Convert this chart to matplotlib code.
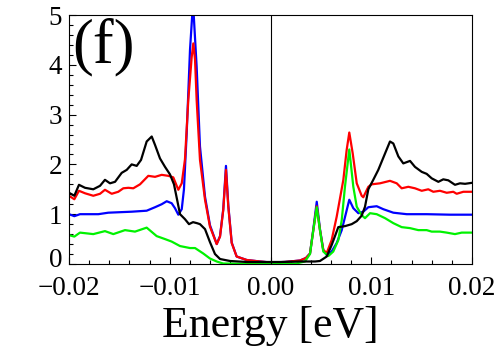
import numpy as np
import matplotlib
matplotlib.use("Agg")
import matplotlib.pyplot as plt
import matplotlib.transforms as mtransforms
from matplotlib.ticker import MultipleLocator, FuncFormatter

plt.rcParams['font.family'] = ['Liberation Serif', 'DejaVu Serif']

# energies in meV
e_black = [-20.00, -19.47, -19.01, -18.41, -17.59, -16.92, -16.43, -15.93, -15.43, -14.77,
           -14.27, -13.78, -13.28, -12.85, -12.29, -11.79, -11.46, -10.97, -10.47, -9.98,
           -9.58, -9.28, -8.98, -8.49, -8.09, -7.69, -7.30, -7.00, -6.50, -6.01,
           -5.51, -5.01, -4.02, -2.33, -1.04, 0.94, 2.93, 4.42, 4.91, 5.58,
           6.07, 6.73, 7.39, 8.06, 8.56, 9.05, 9.38, 9.71, 10.20, 10.70,
           11.37, 11.86, 12.19, 12.69, 13.18, 13.85, 14.34, 15.01, 15.50, 16.00,
           16.66, 17.15, 17.65, 18.31, 18.81, 19.31, 20.00]
dos_black = [1.43, 1.37, 1.59, 1.53, 1.50, 1.57, 1.69, 1.62, 1.65, 1.83,
             1.89, 2.00, 1.97, 2.09, 2.46, 2.56, 2.39, 2.12, 1.95, 1.80,
             1.60, 1.30, 1.00, 0.90, 0.80, 0.84, 0.82, 0.80, 0.70, 0.44,
             0.20, 0.10, 0.06, 0.04, 0.04, 0.04, 0.05, 0.05, 0.06, 0.15,
             0.38, 0.74, 0.76, 0.80, 0.86, 0.97, 1.15, 1.50, 1.69, 1.89,
             2.22, 2.46, 2.42, 2.16, 2.02, 2.07, 1.95, 1.85, 1.81, 1.72,
             1.65, 1.70, 1.68, 1.59, 1.62, 1.61, 1.63]

e_red = [-20.00, -19.47, -19.01, -18.41, -17.59, -16.92, -16.43, -15.76, -15.11, -14.61,
         -14.11, -13.62, -12.95, -12.13, -11.46, -10.80, -10.14, -9.65, -9.15, -8.81,
         -8.49, -8.16, -7.82, -7.66, -7.49, -7.33, -7.00, -6.50, -6.01, -5.34,
         -5.01, -4.69, -4.42, -4.19, -3.85, -3.36, -2.36, -1.04, 0.00, 1.44,
         2.93, 3.52, 3.92, 4.25, 4.59, 4.91, 5.24, 5.58, 6.07, 6.57,
         7.23, 7.56, 7.82, 8.16, 8.56, 9.05, 9.21, 9.71, 10.05, 10.87,
         11.86, 12.53, 13.02, 13.68, 14.34, 15.01, 15.66, 16.16, 16.82, 17.49,
         18.14, 18.48, 19.14, 20.00]
dos_red = [1.37, 1.30, 1.47, 1.42, 1.37, 1.41, 1.49, 1.41, 1.45, 1.52,
           1.53, 1.52, 1.60, 1.77, 1.75, 1.79, 1.77, 1.74, 1.49, 1.62,
           2.10, 3.29, 4.16, 4.43, 4.10, 3.29, 2.09, 1.29, 0.75, 0.40,
           0.55, 1.08, 1.89, 1.15, 0.42, 0.15, 0.08, 0.05, 0.03, 0.04,
           0.07, 0.12, 0.21, 0.68, 1.16, 0.68, 0.28, 0.22, 0.48, 0.95,
           1.69, 2.29, 2.64, 2.22, 1.62, 1.37, 1.34, 1.55, 1.60, 1.62,
           1.67, 1.62, 1.52, 1.55, 1.52, 1.47, 1.50, 1.45, 1.47, 1.43,
           1.45, 1.41, 1.45, 1.45]

e_blue = [-20.00, -19.47, -18.91, -17.09, -16.10, -13.78, -12.29, -11.46, -10.80, -10.30,
          -9.81, -9.48, -9.15, -8.81, -8.59, -8.32, -7.99, -7.69, -7.33, -7.00,
          -6.50, -6.01, -5.34, -5.01, -4.69, -4.42, -4.19, -3.85, -3.36, -2.36,
          -1.04, 0.00, 1.44, 2.93, 3.52, 3.92, 4.25, 4.59, 4.91, 5.24,
          5.58, 6.07, 6.57, 7.07, 7.49, 7.82, 8.22, 8.72, 9.21, 9.71,
          10.54, 11.20, 12.19, 13.52, 15.50, 17.82, 20.00]
dos_blue = [1.00, 0.96, 1.00, 1.00, 1.03, 1.05, 1.07, 1.14, 1.20, 1.26,
            1.22, 1.12, 0.99, 1.10, 1.50, 2.62, 4.30, 5.25, 3.96, 2.36,
            1.35, 0.78, 0.40, 0.56, 1.10, 1.97, 1.18, 0.43, 0.15, 0.08,
            0.05, 0.03, 0.04, 0.07, 0.12, 0.21, 0.70, 1.25, 0.70, 0.28,
            0.18, 0.25, 0.42, 0.68, 1.02, 1.29, 1.12, 1.02, 1.05, 1.14,
            1.16, 1.10, 1.03, 1.00, 1.00, 0.99, 0.99]

e_green = [-20.00, -19.47, -18.91, -17.59, -16.43, -15.60, -14.44, -13.45, -12.29, -11.30,
           -10.47, -9.81, -8.98, -7.99, -7.49, -6.67, -6.01, -5.34, -4.71, -3.03,
           0.00, 2.43, 3.42, 3.92, 4.25, 4.59, 4.91, 5.24, 5.74, 6.23,
           6.73, 7.07, 7.39, 7.82, 8.22, 8.56, 9.05, 9.38, 9.88, 10.54,
           11.37, 12.19, 13.02, 13.85, 14.67, 15.50, 16.00, 16.82, 17.49, 18.31,
           18.98, 20.00]
dos_green = [0.58, 0.55, 0.63, 0.60, 0.66, 0.60, 0.68, 0.65, 0.73, 0.56,
             0.50, 0.45, 0.36, 0.32, 0.32, 0.21, 0.11, 0.05, 0.01, 0.005,
             0.003, 0.005, 0.05, 0.20, 0.68, 1.14, 0.68, 0.25, 0.16, 0.25,
             0.48, 0.88, 1.55, 2.30, 1.55, 1.15, 0.98, 0.92, 1.02, 1.00,
             0.92, 0.82, 0.74, 0.72, 0.68, 0.68, 0.65, 0.65, 0.63, 0.60,
             0.63, 0.63]

xticks = [-0.02, -0.01, 0.0, 0.01, 0.02]
yticks = [0, 1, 2, 3, 4, 5]

fig = plt.figure(figsize=(5, 3.49), dpi=100)
ax = fig.add_axes([0.138, 0.2436, 0.806, 0.7134])

lw = 1.6
ax.plot(np.array(e_blue) * 1e-3, dos_blue, color=(0, 0, 1), lw=lw)
ax.plot(np.array(e_red) * 1e-3, dos_red, color=(1, 0, 0), lw=lw)
ax.plot(np.array(e_green) * 1e-3, dos_green, color=(0, 0.95, 0), lw=lw)
ax.plot(np.array(e_black) * 1e-3, dos_black, color='black', lw=lw)
ax.axvline(0, color='black', lw=0.8)

ax.set_xlim(-0.02, 0.02)
ax.set_ylim(0, 5)
ax.set_xticks(xticks)
ax.set_yticks(yticks)
ax.xaxis.set_minor_locator(MultipleLocator(0.002))
ax.yaxis.set_minor_locator(MultipleLocator(0.2))
ax.xaxis.set_major_formatter(FuncFormatter(lambda v, p: f"{v:.2f}".replace('-', '\u2212')))
ax.tick_params(which='both', direction='in', top=False, right=False, labelsize=19.5, width=0.8)
ax.tick_params(which='major', length=5)
ax.tick_params(axis='x', which='major', pad=9)
ax.tick_params(axis='y', which='major', pad=5)
ax.tick_params(which='minor', length=3)
for s in ax.spines.values():
    s.set_linewidth(0.8)

ax.set_xlabel('Energy [eV]', fontsize=31.5, labelpad=3)
ax.text(0.008, 0.99, '(f)', transform=ax.transAxes, fontsize=45, va='top', ha='left')

# lift the "0" label a little, as in the original, so it clears -0.02
lbl0 = ax.yaxis.get_major_ticks()[0].label1
lbl0.set_transform(lbl0.get_transform() + mtransforms.ScaledTranslation(0, 5 / 72, fig.dpi_scale_trans))

fig.savefig('out.png', dpi=100)
